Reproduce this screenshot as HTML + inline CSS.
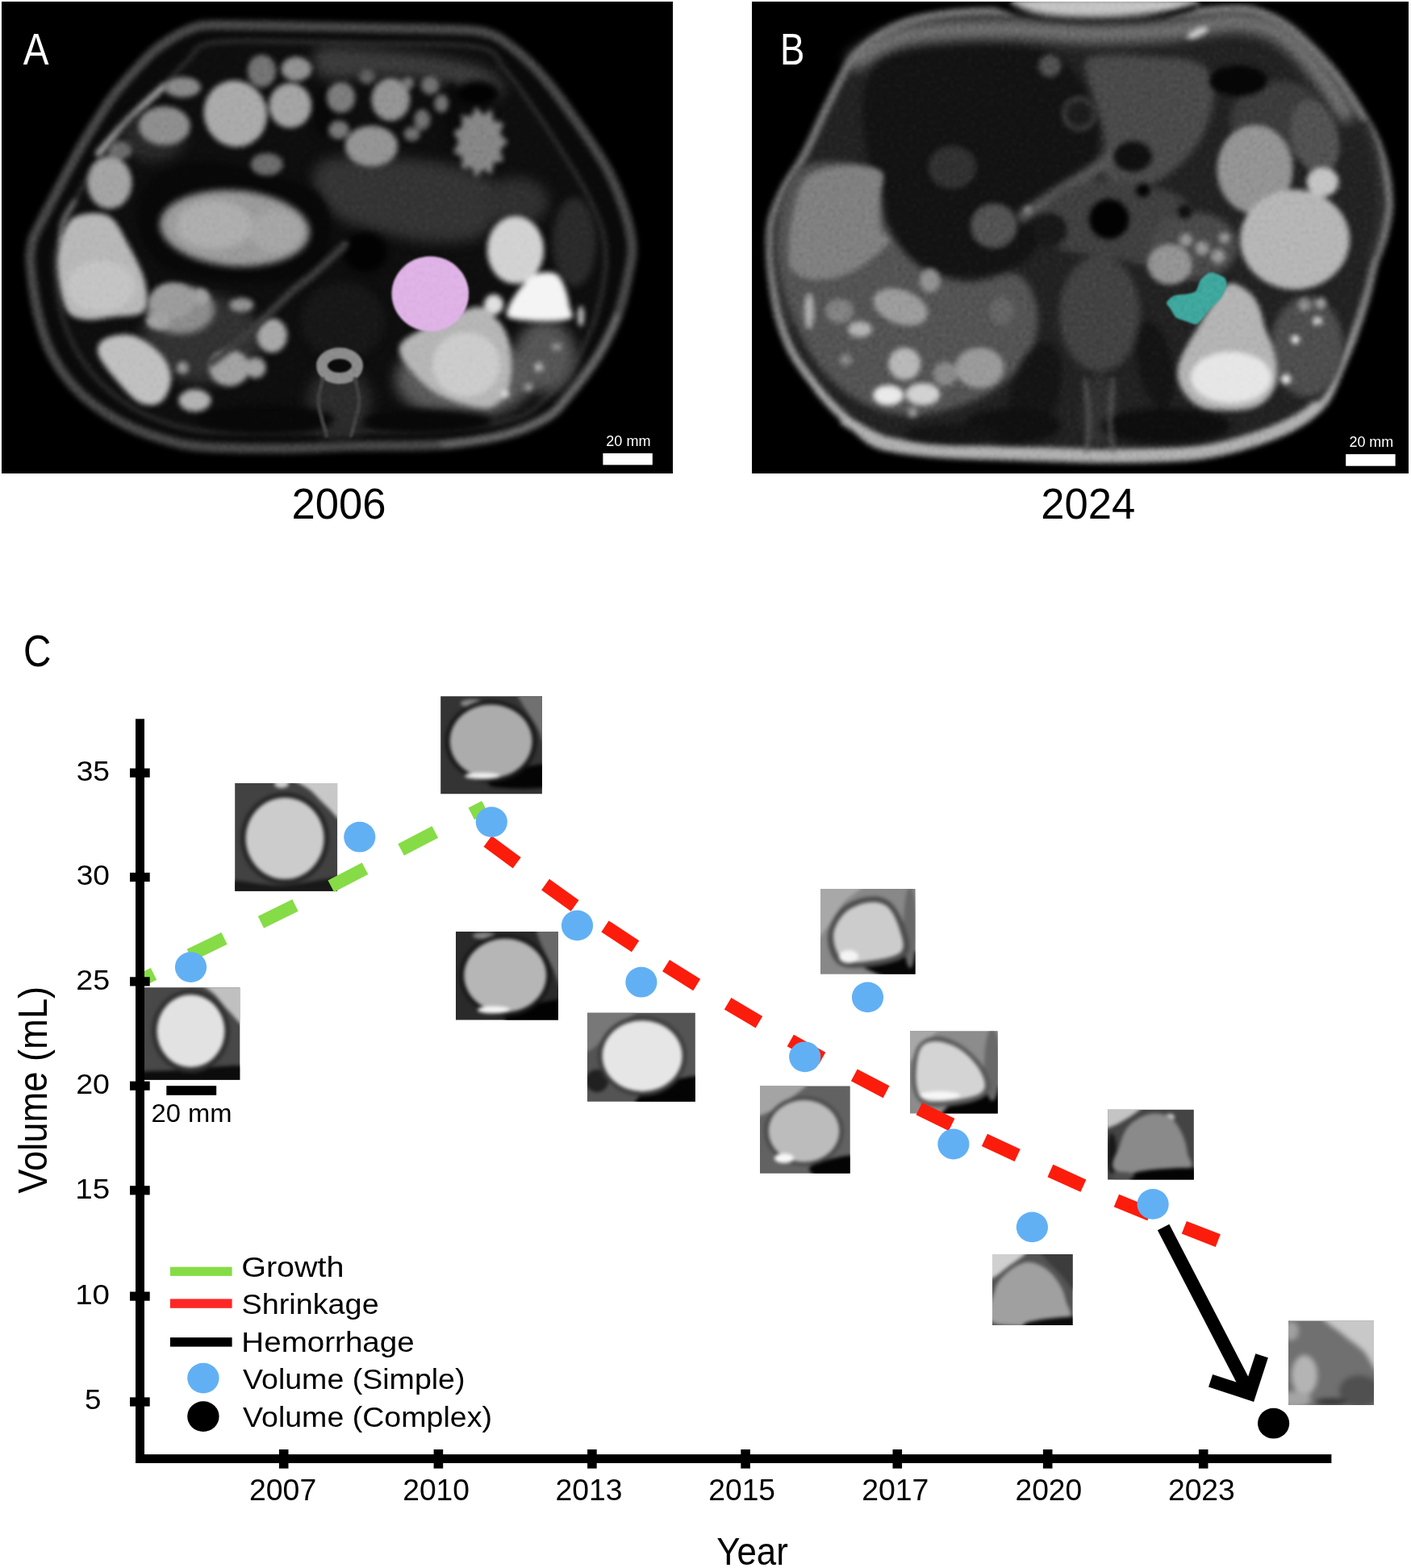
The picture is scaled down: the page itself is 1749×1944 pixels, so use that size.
<!DOCTYPE html>
<html lang="en"><head><meta charset="utf-8"><title>Figure</title>
<style>
html,body{margin:0;padding:0;background:#fff}
body{width:1749px;height:1944px;overflow:hidden;position:relative}
svg{position:absolute;left:0;top:0;display:block}
text{font-family:"Liberation Sans",sans-serif;white-space:pre}
</style></head>
<body>
<svg width="1749" height="1944" viewBox="0 0 1749 1944">
<defs>
<filter id="b1" x="-20%" y="-20%" width="140%" height="140%" color-interpolation-filters="sRGB"><feGaussianBlur stdDeviation="1.3"/></filter>
<filter id="b2" x="-20%" y="-20%" width="140%" height="140%" color-interpolation-filters="sRGB"><feGaussianBlur stdDeviation="3.2"/></filter>
<filter id="b3" x="-20%" y="-20%" width="140%" height="140%" color-interpolation-filters="sRGB"><feGaussianBlur stdDeviation="4.5"/></filter>
<filter id="b4" x="-30%" y="-30%" width="160%" height="160%" color-interpolation-filters="sRGB"><feGaussianBlur stdDeviation="8"/></filter>
<filter id="b5" x="-30%" y="-30%" width="160%" height="160%" color-interpolation-filters="sRGB"><feGaussianBlur stdDeviation="14"/></filter>
<linearGradient id="gB" gradientUnits="userSpaceOnUse" x1="0" y1="330" x2="0" y2="520"><stop offset="0" stop-color="#727272"/><stop offset="1" stop-color="#acacac"/></linearGradient>
<clipPath id="cA"><rect x="2.5" y="2.5" width="830.8" height="584.2"/></clipPath>
<clipPath id="cB"><rect x="932" y="2.5" width="813.3" height="584.2"/></clipPath>
<filter id="bt" x="-20%" y="-20%" width="140%" height="140%" color-interpolation-filters="sRGB"><feGaussianBlur stdDeviation="2"/></filter>
<filter id="grain" x="0" y="0" width="100%" height="100%" color-interpolation-filters="sRGB"><feTurbulence type="fractalNoise" baseFrequency="0.22" numOctaves="2" seed="7"/><feColorMatrix type="matrix" values="0.33 0.33 0.33 0 0  0.33 0.33 0.33 0 0  0.33 0.33 0.33 0 0  0 0 0 0 1"/><feGaussianBlur stdDeviation="0.8"/></filter>
<clipPath id="t1"><rect x="178.8" y="1224.2" width="118.5" height="114.5"/></clipPath>
<clipPath id="t2"><rect x="291.2" y="971" width="126.9" height="133.7"/></clipPath>
<clipPath id="t3"><rect x="546.2" y="863.2" width="125.7" height="121.0"/></clipPath>
<clipPath id="t4"><rect x="565" y="1155.1" width="127.0" height="109.5"/></clipPath>
<clipPath id="t5"><rect x="728" y="1255.7" width="133.8" height="110.1"/></clipPath>
<clipPath id="t6"><rect x="1017" y="1102" width="117.6" height="105.8"/></clipPath>
<clipPath id="t7"><rect x="942" y="1346.6" width="111.7" height="108.1"/></clipPath>
<clipPath id="t8"><rect x="1128" y="1278.3" width="108.8" height="102.3"/></clipPath>
<clipPath id="t9"><rect x="1230" y="1554.9" width="99.6" height="88.0"/></clipPath>
<clipPath id="t10"><rect x="1373.1" y="1375.8" width="106.7" height="86.8"/></clipPath>
<clipPath id="t11"><rect x="1597" y="1637.4" width="106.0" height="104.5"/></clipPath>
</defs>
<rect x="0" y="0" width="1749" height="1944" fill="#fff"/>
<g clip-path="url(#cA)">
<rect x="0" y="0" width="840" height="590" fill="#000"/>
<g filter="url(#b2)">
<path d="M264.0,31.0 C282.5,30.5 320.7,31.5 350.0,32.0 C379.3,32.5 408.3,33.3 440.0,34.0 C471.7,34.7 513.2,35.0 540.0,36.0 C566.8,37.0 584.5,35.7 601.0,40.0 C617.5,44.3 626.3,52.0 639.0,62.0 C651.7,72.0 664.5,85.3 677.0,100.0 C689.5,114.7 701.8,132.5 714.0,150.0 C726.2,167.5 740.5,188.0 750.0,205.0 C759.5,222.0 765.5,236.2 771.0,252.0 C776.5,267.8 781.5,286.2 783.0,300.0 C784.5,313.8 783.0,319.5 780.0,335.0 C777.0,350.5 771.7,375.0 765.0,393.0 C758.3,411.0 750.5,426.2 740.0,443.0 C729.5,459.8 712.5,481.5 702.0,494.0 C691.5,506.5 689.7,510.5 677.0,518.0 C664.3,525.5 647.0,533.5 626.0,539.0 C605.0,544.5 582.0,548.7 551.0,551.0 C520.0,553.3 473.2,552.2 440.0,553.0 C406.8,553.8 383.3,555.8 352.0,556.0 C320.7,556.2 277.2,556.0 252.0,554.0 C226.8,552.0 217.8,549.0 201.0,544.0 C184.2,539.0 167.7,533.2 151.0,524.0 C134.3,514.8 115.2,502.5 101.0,489.0 C86.8,475.5 74.8,459.0 66.0,443.0 C57.2,427.0 52.7,411.8 48.0,393.0 C43.3,374.2 39.5,344.7 38.0,330.0 C36.5,315.3 38.0,311.8 39.0,305.0 C40.0,298.2 40.0,297.8 44.0,289.0 C48.0,280.2 56.5,264.5 63.0,252.0 C69.5,239.5 76.7,225.8 83.0,214.0 C89.3,202.2 94.7,192.0 101.0,181.0 C107.3,170.0 114.3,158.5 121.0,148.0 C127.7,137.5 133.8,127.5 141.0,118.0 C148.2,108.5 156.0,99.8 164.0,91.0 C172.0,82.2 180.7,72.3 189.0,65.0 C197.3,57.7 205.7,52.0 214.0,47.0 C222.3,42.0 230.7,37.7 239.0,35.0 C247.3,32.3 245.5,31.5 264.0,31.0Z" fill="#0a0a0a"/>
<path d="M270.0,52.0 C305.0,48.0 386.7,53.0 440.0,54.0 C493.3,55.0 559.2,52.8 590.0,58.0 C620.8,63.2 614.7,74.5 625.0,85.0 C635.3,95.5 641.3,105.8 652.0,121.0 C662.7,136.2 676.5,156.3 689.0,176.0 C701.5,195.7 717.2,220.0 727.0,239.0 C736.8,258.0 744.2,273.2 748.0,290.0 C751.8,306.8 752.0,321.7 750.0,340.0 C748.0,358.3 742.3,381.7 736.0,400.0 C729.7,418.3 721.3,435.0 712.0,450.0 C702.7,465.0 692.2,478.5 680.0,490.0 C667.8,501.5 660.5,511.8 639.0,519.0 C617.5,526.2 584.2,530.3 551.0,533.0 C517.8,535.7 476.8,534.5 440.0,535.0 C403.2,535.5 361.7,536.2 330.0,536.0 C298.3,535.8 271.7,536.3 250.0,534.0 C228.3,531.7 215.0,527.2 200.0,522.0 C185.0,516.8 173.3,511.7 160.0,503.0 C146.7,494.3 131.3,482.2 120.0,470.0 C108.7,457.8 99.5,444.2 92.0,430.0 C84.5,415.8 79.0,401.7 75.0,385.0 C71.0,368.3 68.5,344.2 68.0,330.0 C67.5,315.8 68.3,312.5 72.0,300.0 C75.7,287.5 84.0,268.0 90.0,255.0 C96.0,242.0 101.3,233.2 108.0,222.0 C114.7,210.8 122.8,198.2 130.0,188.0 C137.2,177.8 143.5,169.8 151.0,161.0 C158.5,152.2 166.8,143.5 175.0,135.0 C183.2,126.5 190.8,119.5 200.0,110.0 C209.2,100.5 218.3,87.7 230.0,78.0 C241.7,68.3 235.0,56.0 270.0,52.0Z" fill="#0e0e0e"/>
<path d="M264.0,31.0 C282.5,30.5 320.7,31.5 350.0,32.0 C379.3,32.5 408.3,33.3 440.0,34.0 C471.7,34.7 513.2,35.0 540.0,36.0 C566.8,37.0 584.5,35.7 601.0,40.0 C617.5,44.3 626.3,52.0 639.0,62.0 C651.7,72.0 664.5,85.3 677.0,100.0 C689.5,114.7 701.8,132.5 714.0,150.0 C726.2,167.5 740.5,188.0 750.0,205.0 C759.5,222.0 765.5,236.2 771.0,252.0 C776.5,267.8 781.5,286.2 783.0,300.0 C784.5,313.8 783.0,319.5 780.0,335.0 C777.0,350.5 771.7,375.0 765.0,393.0 C758.3,411.0 750.5,426.2 740.0,443.0 C729.5,459.8 712.5,481.5 702.0,494.0 C691.5,506.5 689.7,510.5 677.0,518.0 C664.3,525.5 647.0,533.5 626.0,539.0 C605.0,544.5 582.0,548.7 551.0,551.0 C520.0,553.3 473.2,552.2 440.0,553.0 C406.8,553.8 383.3,555.8 352.0,556.0 C320.7,556.2 277.2,556.0 252.0,554.0 C226.8,552.0 217.8,549.0 201.0,544.0 C184.2,539.0 167.7,533.2 151.0,524.0 C134.3,514.8 115.2,502.5 101.0,489.0 C86.8,475.5 74.8,459.0 66.0,443.0 C57.2,427.0 52.7,411.8 48.0,393.0 C43.3,374.2 39.5,344.7 38.0,330.0 C36.5,315.3 38.0,311.8 39.0,305.0 C40.0,298.2 40.0,297.8 44.0,289.0 C48.0,280.2 56.5,264.5 63.0,252.0 C69.5,239.5 76.7,225.8 83.0,214.0 C89.3,202.2 94.7,192.0 101.0,181.0 C107.3,170.0 114.3,158.5 121.0,148.0 C127.7,137.5 133.8,127.5 141.0,118.0 C148.2,108.5 156.0,99.8 164.0,91.0 C172.0,82.2 180.7,72.3 189.0,65.0 C197.3,57.7 205.7,52.0 214.0,47.0 C222.3,42.0 230.7,37.7 239.0,35.0 C247.3,32.3 245.5,31.5 264.0,31.0Z" fill="none" stroke="#484848" stroke-width="12" stroke-linecap="round" stroke-linejoin="round"/>
<path d="M270.0,52.0 C305.0,48.0 386.7,53.0 440.0,54.0 C493.3,55.0 559.2,52.8 590.0,58.0 C620.8,63.2 614.7,74.5 625.0,85.0 C635.3,95.5 641.3,105.8 652.0,121.0 C662.7,136.2 676.5,156.3 689.0,176.0 C701.5,195.7 717.2,220.0 727.0,239.0 C736.8,258.0 744.2,273.2 748.0,290.0 C751.8,306.8 752.0,321.7 750.0,340.0 C748.0,358.3 742.3,381.7 736.0,400.0 C729.7,418.3 721.3,435.0 712.0,450.0 C702.7,465.0 692.2,478.5 680.0,490.0 C667.8,501.5 660.5,511.8 639.0,519.0 C617.5,526.2 584.2,530.3 551.0,533.0 C517.8,535.7 476.8,534.5 440.0,535.0 C403.2,535.5 361.7,536.2 330.0,536.0 C298.3,535.8 271.7,536.3 250.0,534.0 C228.3,531.7 215.0,527.2 200.0,522.0 C185.0,516.8 173.3,511.7 160.0,503.0 C146.7,494.3 131.3,482.2 120.0,470.0 C108.7,457.8 99.5,444.2 92.0,430.0 C84.5,415.8 79.0,401.7 75.0,385.0 C71.0,368.3 68.5,344.2 68.0,330.0 C67.5,315.8 68.3,312.5 72.0,300.0 C75.7,287.5 84.0,268.0 90.0,255.0 C96.0,242.0 101.3,233.2 108.0,222.0 C114.7,210.8 122.8,198.2 130.0,188.0 C137.2,177.8 143.5,169.8 151.0,161.0 C158.5,152.2 166.8,143.5 175.0,135.0 C183.2,126.5 190.8,119.5 200.0,110.0 C209.2,100.5 218.3,87.7 230.0,78.0 C241.7,68.3 235.0,56.0 270.0,52.0Z" fill="none" stroke="#303030" stroke-width="5" stroke-linecap="round" stroke-linejoin="round"/>
<path d="M765.0,393.0 C760.8,401.3 750.5,426.2 740.0,443.0 C729.5,459.8 712.5,481.5 702.0,494.0 C691.5,506.5 689.7,510.5 677.0,518.0 C664.3,525.5 647.0,533.5 626.0,539.0 C605.0,544.5 563.5,549.0 551.0,551.0" fill="none" stroke="#666666" stroke-width="9" stroke-linecap="round" stroke-linejoin="round"/>
<path d="M122.0,190.0 C126.7,184.7 140.7,168.0 150.0,158.0 C159.3,148.0 169.2,138.5 178.0,130.0 C186.8,121.5 198.8,110.8 203.0,107.0" fill="none" stroke="#a0a0a0" stroke-width="8" stroke-linecap="round" stroke-linejoin="round"/>
<path d="M75.0,300.0 C75.5,295.8 75.2,283.3 78.0,275.0 C80.8,266.7 89.7,254.2 92.0,250.0" fill="none" stroke="#707070" stroke-width="6" stroke-linecap="round" stroke-linejoin="round"/>
</g>
<g filter="url(#b4)">
<path d="M395.0,60.0 C406.7,54.5 445.8,60.3 470.0,62.0 C494.2,63.7 518.3,66.2 540.0,70.0 C561.7,73.8 585.8,78.3 600.0,85.0 C614.2,91.7 625.0,103.3 625.0,110.0 C625.0,116.7 614.2,126.7 600.0,125.0 C585.8,123.3 561.7,105.0 540.0,100.0 C518.3,95.0 493.3,95.8 470.0,95.0 C446.7,94.2 412.5,100.8 400.0,95.0 C387.5,89.2 383.3,65.5 395.0,60.0Z" fill="#3c3c3c"/>
<path d="M400.0,200.0 C413.3,193.3 443.3,194.2 470.0,195.0 C496.7,195.8 535.0,198.3 560.0,205.0 C585.0,211.7 613.3,220.8 620.0,235.0 C626.7,249.2 613.3,279.2 600.0,290.0 C586.7,300.8 560.0,300.0 540.0,300.0 C520.0,300.0 500.0,295.0 480.0,290.0 C460.0,285.0 435.0,279.2 420.0,270.0 C405.0,260.8 393.3,246.7 390.0,235.0 C386.7,223.3 386.7,206.7 400.0,200.0Z" fill="#343434"/>
<ellipse cx="676.0" cy="442.0" rx="38.0" ry="45.0" fill="#565656"/>
<ellipse cx="250.0" cy="420.0" rx="75.0" ry="55.0" fill="#323232"/>
<ellipse cx="190.0" cy="170.0" rx="40.0" ry="30.0" fill="#2a2a2a"/>
<ellipse cx="420.0" cy="500.0" rx="40.0" ry="45.0" fill="#2c2c2c"/>
<ellipse cx="640.0" cy="250.0" rx="40.0" ry="30.0" fill="#303030"/>
<ellipse cx="575.0" cy="470.0" rx="85.0" ry="50.0" fill="#5a5a5a"/>
</g>
<g filter="url(#b3)">
<path d="M185.0,225.0 C198.3,212.5 225.8,201.7 250.0,200.0 C274.2,198.3 305.8,208.3 330.0,215.0 C354.2,221.7 381.7,227.5 395.0,240.0 C408.3,252.5 410.8,274.2 410.0,290.0 C409.2,305.8 403.3,325.0 390.0,335.0 C376.7,345.0 353.3,348.3 330.0,350.0 C306.7,351.7 272.5,349.2 250.0,345.0 C227.5,340.8 208.3,336.7 195.0,325.0 C181.7,313.3 171.7,291.7 170.0,275.0 C168.3,258.3 171.7,237.5 185.0,225.0Z" fill="#080808"/>
<ellipse cx="452.8" cy="312.7" rx="27.0" ry="25.0" fill="#020202"/>
<ellipse cx="425.0" cy="398.0" rx="52.0" ry="48.0" fill="#171717"/>
<ellipse cx="592.0" cy="116.0" rx="27.0" ry="16.0" fill="#020202"/>
<ellipse cx="712.0" cy="300.0" rx="27.0" ry="55.0" fill="#2a2a2a"/>
<ellipse cx="330.0" cy="520.0" rx="85.0" ry="18.0" fill="#080808"/>
<ellipse cx="530.0" cy="522.0" rx="80.0" ry="15.0" fill="#080808"/>
<ellipse cx="400.0" cy="140.0" rx="12.0" ry="30.0" fill="#080808"/>
<ellipse cx="560.0" cy="140.0" rx="10.0" ry="40.0" fill="#0a0a0a"/>
</g>
<g filter="url(#b3)">
<ellipse cx="291.0" cy="283.0" rx="93.0" ry="47.0" fill="#9a9a9a" transform="rotate(4 291.0 283.0)"/>
<ellipse cx="266.0" cy="279.0" rx="48.0" ry="30.0" fill="#aeaeae"/>
<ellipse cx="342.0" cy="287.0" rx="32.0" ry="27.0" fill="#a6a6a6"/>
<ellipse cx="224.0" cy="384.0" rx="42.0" ry="30.0" fill="#8c8c8c"/>
</g>
<g filter="url(#b2)">
<ellipse cx="135.8" cy="226.4" rx="27.7" ry="32.7" fill="#a4a4a4"/>
<ellipse cx="203.8" cy="156.0" rx="32.0" ry="24.0" fill="#8e8e8e"/>
<ellipse cx="291.8" cy="140.9" rx="39.0" ry="41.5" fill="#aaaaaa" transform="rotate(-20 291.8 140.9)"/>
<ellipse cx="359.7" cy="130.8" rx="26.4" ry="27.7" fill="#a4a4a4"/>
<ellipse cx="367.3" cy="85.5" rx="18.9" ry="15.0" fill="#929292"/>
<ellipse cx="324.5" cy="88.0" rx="17.6" ry="20.0" fill="#747474"/>
<ellipse cx="226.4" cy="108.2" rx="22.6" ry="12.6" fill="#8a8a8a"/>
<ellipse cx="330.8" cy="203.8" rx="20.0" ry="13.8" fill="#6c6c6c"/>
<ellipse cx="148.4" cy="186.2" rx="15.0" ry="11.3" fill="#6c6c6c"/>
<ellipse cx="422.6" cy="120.8" rx="17.6" ry="18.9" fill="#7c7c7c"/>
<ellipse cx="484.3" cy="123.3" rx="23.9" ry="26.4" fill="#949494"/>
<ellipse cx="460.4" cy="181.1" rx="32.7" ry="25.2" fill="#949494"/>
<ellipse cx="533.3" cy="105.7" rx="11.3" ry="11.3" fill="#727272"/>
<ellipse cx="547.2" cy="128.3" rx="8.8" ry="11.3" fill="#727272"/>
<ellipse cx="523.3" cy="148.4" rx="10.0" ry="12.6" fill="#727272"/>
<ellipse cx="510.7" cy="166.0" rx="10.0" ry="8.8" fill="#727272"/>
<ellipse cx="420.1" cy="161.0" rx="12.6" ry="11.3" fill="#787878"/>
<ellipse cx="505.7" cy="103.1" rx="7.5" ry="7.5" fill="#787878"/>
<ellipse cx="455.0" cy="95.0" rx="10.0" ry="9.0" fill="#606060"/>
<path d="M629.0,176.0 C629.0,177.9 620.9,183.3 620.4,185.7 C619.9,188.1 624.4,198.2 623.6,199.8 C622.8,201.4 613.9,200.3 612.4,201.9 C610.9,203.5 610.5,215.2 609.1,216.0 C607.7,216.8 600.7,209.6 598.8,210.0 C596.9,210.4 591.7,219.9 590.2,219.6 C588.7,219.3 585.8,208.2 584.0,207.2 C582.2,206.2 573.8,210.6 572.7,209.3 C571.6,208.0 573.7,196.7 572.7,194.6 C571.7,192.5 562.8,190.3 562.4,188.4 C562.0,186.5 568.5,178.5 568.5,176.0 C568.5,173.5 562.0,165.5 562.4,163.6 C562.8,161.7 571.7,159.5 572.7,157.4 C573.7,155.3 571.6,144.0 572.7,142.7 C573.8,141.4 582.2,145.8 584.0,144.8 C585.8,143.8 588.7,132.7 590.2,132.4 C591.7,132.1 596.9,141.6 598.8,142.0 C600.7,142.4 607.7,135.2 609.1,136.0 C610.5,136.8 610.9,148.5 612.4,150.1 C613.9,151.7 622.8,150.6 623.6,152.2 C624.4,153.8 619.9,163.9 620.4,166.3 C620.9,168.7 629.0,174.1 629.0,176.0Z" fill="#868686"/>
<path d="M95.0,268.0 C104.5,264.3 124.2,261.8 135.0,268.0 C145.8,274.2 152.5,291.3 160.0,305.0 C167.5,318.7 177.0,336.5 180.0,350.0 C183.0,363.5 184.7,378.8 178.0,386.0 C171.3,393.2 152.2,391.3 140.0,393.0 C127.8,394.7 114.7,397.7 105.0,396.0 C95.3,394.3 87.7,394.0 82.0,383.0 C76.3,372.0 71.7,345.5 71.0,330.0 C70.3,314.5 74.0,300.3 78.0,290.0 C82.0,279.7 85.5,271.7 95.0,268.0Z" fill="#b8b8b8"/>
<ellipse cx="125.0" cy="355.0" rx="42.0" ry="32.0" fill="#c4c4c4"/>
<path d="M130.0,420.0 C137.2,416.0 153.3,412.7 165.0,416.0 C176.7,419.3 192.2,431.0 200.0,440.0 C207.8,449.0 212.0,460.3 212.0,470.0 C212.0,479.7 206.2,493.0 200.0,498.0 C193.8,503.0 183.3,503.3 175.0,500.0 C166.7,496.7 158.8,488.0 150.0,478.0 C141.2,468.0 125.3,449.7 122.0,440.0 C118.7,430.3 122.8,424.0 130.0,420.0Z" fill="#c0c0c0"/>
<ellipse cx="213.8" cy="373.0" rx="27.7" ry="22.6" fill="#9c9c9c"/>
<ellipse cx="249.0" cy="368.0" rx="10.0" ry="10.0" fill="#a2a2a2"/>
<ellipse cx="299.4" cy="378.0" rx="15.0" ry="8.8" fill="#929292"/>
<ellipse cx="196.2" cy="398.2" rx="15.0" ry="10.0" fill="#a2a2a2"/>
<ellipse cx="337.1" cy="415.8" rx="18.9" ry="21.4" fill="#a8a8a8"/>
<ellipse cx="284.3" cy="456.1" rx="25.2" ry="22.6" fill="#a2a2a2"/>
<ellipse cx="317.0" cy="456.1" rx="12.6" ry="12.6" fill="#a2a2a2"/>
<ellipse cx="241.5" cy="496.4" rx="20.0" ry="13.8" fill="#b2b2b2"/>
<ellipse cx="226.4" cy="456.1" rx="7.5" ry="7.5" fill="#9a9a9a"/>
<ellipse cx="639.0" cy="310.0" rx="35.2" ry="42.0" fill="#d2d2d2"/>
<path d="M662.0,341.0 C669.7,337.3 681.7,336.5 688.0,339.0 C694.3,341.5 697.0,349.2 700.0,356.0 C703.0,362.8 704.8,373.5 706.0,380.0 C707.2,386.5 713.0,392.0 707.0,395.0 C701.0,398.0 682.5,398.2 670.0,398.0 C657.5,397.8 638.7,396.7 632.0,394.0 C625.3,391.3 628.3,387.5 630.0,382.0 C631.7,376.5 636.7,367.8 642.0,361.0 C647.3,354.2 654.3,344.7 662.0,341.0Z" fill="#f4f4f4"/>
<ellipse cx="612.0" cy="377.5" rx="12.0" ry="12.5" fill="#e0e0e0"/>
<path d="M588.0,381.0 C603.8,378.5 608.0,388.5 615.0,395.0 C622.0,401.5 626.8,409.2 630.0,420.0 C633.2,430.8 634.7,448.3 634.0,460.0 C633.3,471.7 631.5,482.3 626.0,490.0 C620.5,497.7 614.5,506.0 601.0,506.0 C587.5,506.0 560.2,497.7 545.0,490.0 C529.8,482.3 518.3,469.8 510.0,460.0 C501.7,450.2 493.3,439.3 495.0,431.0 C496.7,422.7 504.5,418.3 520.0,410.0 C535.5,401.7 572.2,383.5 588.0,381.0Z" fill="#b6b6b6"/>
<ellipse cx="578.0" cy="452.0" rx="42.0" ry="40.0" fill="#cccccc"/>
<ellipse cx="720.0" cy="392.0" rx="4.0" ry="13.0" fill="#c8c8c8"/>
<ellipse cx="668.0" cy="455.0" rx="6.0" ry="6.0" fill="#b0b0b0"/>
<ellipse cx="690.0" cy="430.0" rx="7.0" ry="5.0" fill="#909090"/>
<ellipse cx="655.0" cy="480.0" rx="6.0" ry="5.0" fill="#a0a0a0"/>
<ellipse cx="626.4" cy="488.8" rx="5.0" ry="5.0" fill="#e4e4e4"/>
</g>
<g filter="url(#b1)">
<ellipse cx="421" cy="453.5" rx="22" ry="15.5" fill="#0a0a0a" stroke="#8c8c8c" stroke-width="14"/>
<path d="M400.0,470.0 C399.2,475.0 394.2,488.3 395.0,500.0 C395.8,511.7 403.3,533.3 405.0,540.0" fill="none" stroke="#404040" stroke-width="5" stroke-linecap="round" stroke-linejoin="round"/>
<path d="M440.0,470.0 C440.8,475.0 445.8,488.3 445.0,500.0 C444.2,511.7 436.7,533.3 435.0,540.0" fill="none" stroke="#404040" stroke-width="5" stroke-linecap="round" stroke-linejoin="round"/>
</g>
<g filter="url(#b2)">
<path d="M428.0,303.0 C424.2,306.7 412.0,318.5 405.0,325.0 C398.0,331.5 393.5,335.7 386.0,342.0 C378.5,348.3 369.3,354.7 360.0,363.0 C350.7,371.3 340.0,382.5 330.0,392.0 C320.0,401.5 311.3,410.3 300.0,420.0 C288.7,429.7 268.3,445.0 262.0,450.0" fill="none" stroke="#3e3e3e" stroke-width="9" stroke-linecap="round" stroke-linejoin="round"/>
</g>
<g filter="url(#b1)">
<ellipse cx="533.3" cy="364.3" rx="47.8" ry="46.5" fill="#DFB3E6"/>
</g>
<rect x="2" y="2" width="832" height="585" filter="url(#grain)" opacity="0.35" style="mix-blend-mode:soft-light"/>
</g>
<rect x="747.4" y="562" width="61.4" height="14.4" fill="#fff"/>
<text x="751.29" y="552.80" font-size="17.62" textLength="55.20" lengthAdjust="spacingAndGlyphs" fill="#fff" >20 mm</text>
<text x="28.71" y="79.90" font-size="54.80" textLength="31.79" lengthAdjust="spacingAndGlyphs" fill="#fff" >A</text>
<g clip-path="url(#cB)">
<rect x="925" y="0" width="830" height="590" fill="#000"/>
<g filter="url(#b2)">
<path d="M1225.0,14.0 C1191.3,13.8 1168.8,17.0 1148.0,21.0 C1127.2,25.0 1114.7,30.0 1100.0,38.0 C1085.3,46.0 1069.7,59.0 1060.0,69.0 C1050.3,79.0 1048.7,85.7 1042.0,98.0 C1035.3,110.3 1027.5,127.3 1020.0,143.0 C1012.5,158.7 1005.0,177.0 997.0,192.0 C989.0,207.0 978.8,219.3 972.0,233.0 C965.2,246.7 959.0,260.3 956.0,274.0 C953.0,287.7 953.7,301.3 954.0,315.0 C954.3,328.7 956.0,342.5 958.0,356.0 C960.0,369.5 962.0,382.5 966.0,396.0 C970.0,409.5 975.8,425.0 982.0,437.0 C988.2,449.0 995.5,457.8 1003.0,468.0 C1010.5,478.2 1017.8,488.0 1027.0,498.0 C1036.2,508.0 1049.2,519.8 1058.0,528.0 C1066.8,536.2 1071.5,542.3 1080.0,547.0 C1088.5,551.7 1093.7,553.3 1109.0,556.0 C1124.3,558.7 1146.8,561.3 1172.0,563.0 C1197.2,564.7 1226.2,565.0 1260.0,566.0 C1293.8,567.0 1337.5,569.2 1375.0,569.0 C1412.5,568.8 1454.2,568.7 1485.0,565.0 C1515.8,561.3 1539.2,553.7 1560.0,547.0 C1580.8,540.3 1596.3,533.2 1610.0,525.0 C1623.7,516.8 1633.7,508.8 1642.0,498.0 C1650.3,487.2 1654.2,473.2 1660.0,460.0 C1665.8,446.8 1671.3,434.5 1677.0,419.0 C1682.7,403.5 1689.5,382.5 1694.0,367.0 C1698.5,351.5 1700.5,338.0 1704.0,326.0 C1707.5,314.0 1712.0,306.3 1715.0,295.0 C1718.0,283.7 1721.2,269.7 1722.0,258.0 C1722.8,246.3 1721.2,234.5 1720.0,225.0 C1718.8,215.5 1717.5,209.8 1715.0,201.0 C1712.5,192.2 1709.8,182.5 1705.0,172.0 C1700.2,161.5 1694.2,151.2 1686.0,138.0 C1677.8,124.8 1666.0,106.0 1656.0,93.0 C1646.0,80.0 1635.8,69.8 1626.0,60.0 C1616.2,50.2 1606.7,41.0 1597.0,34.0 C1587.3,27.0 1577.7,21.8 1568.0,18.0 C1558.3,14.2 1552.2,11.7 1539.0,11.0 C1525.8,10.3 1508.8,12.2 1489.0,14.0 C1469.2,15.8 1443.2,20.7 1420.0,22.0 C1396.8,23.3 1382.5,23.3 1350.0,22.0 C1317.5,20.7 1258.7,14.2 1225.0,14.0Z" fill="#222222"/>
<path d="M1225.0,14.0 C1191.3,13.8 1168.8,17.0 1148.0,21.0 C1127.2,25.0 1114.7,30.0 1100.0,38.0 C1085.3,46.0 1069.7,59.0 1060.0,69.0 C1050.3,79.0 1048.7,85.7 1042.0,98.0 C1035.3,110.3 1027.5,127.3 1020.0,143.0 C1012.5,158.7 1005.0,177.0 997.0,192.0 C989.0,207.0 978.8,219.3 972.0,233.0 C965.2,246.7 959.0,260.3 956.0,274.0 C953.0,287.7 953.7,301.3 954.0,315.0 C954.3,328.7 956.0,342.5 958.0,356.0 C960.0,369.5 962.0,382.5 966.0,396.0 C970.0,409.5 975.8,425.0 982.0,437.0 C988.2,449.0 995.5,457.8 1003.0,468.0 C1010.5,478.2 1017.8,488.0 1027.0,498.0 C1036.2,508.0 1049.2,519.8 1058.0,528.0 C1066.8,536.2 1071.5,542.3 1080.0,547.0 C1088.5,551.7 1093.7,553.3 1109.0,556.0 C1124.3,558.7 1146.8,561.3 1172.0,563.0 C1197.2,564.7 1226.2,565.0 1260.0,566.0 C1293.8,567.0 1337.5,569.2 1375.0,569.0 C1412.5,568.8 1454.2,568.7 1485.0,565.0 C1515.8,561.3 1539.2,553.7 1560.0,547.0 C1580.8,540.3 1596.3,533.2 1610.0,525.0 C1623.7,516.8 1633.7,508.8 1642.0,498.0 C1650.3,487.2 1654.2,473.2 1660.0,460.0 C1665.8,446.8 1671.3,434.5 1677.0,419.0 C1682.7,403.5 1689.5,382.5 1694.0,367.0 C1698.5,351.5 1700.5,338.0 1704.0,326.0 C1707.5,314.0 1712.0,306.3 1715.0,295.0 C1718.0,283.7 1721.2,269.7 1722.0,258.0 C1722.8,246.3 1721.2,234.5 1720.0,225.0 C1718.8,215.5 1717.5,209.8 1715.0,201.0 C1712.5,192.2 1709.8,182.5 1705.0,172.0 C1700.2,161.5 1694.2,151.2 1686.0,138.0 C1677.8,124.8 1666.0,106.0 1656.0,93.0 C1646.0,80.0 1635.8,69.8 1626.0,60.0 C1616.2,50.2 1606.7,41.0 1597.0,34.0 C1587.3,27.0 1577.7,21.8 1568.0,18.0 C1558.3,14.2 1552.2,11.7 1539.0,11.0 C1525.8,10.3 1508.8,12.2 1489.0,14.0 C1469.2,15.8 1443.2,20.7 1420.0,22.0 C1396.8,23.3 1382.5,23.3 1350.0,22.0 C1317.5,20.7 1258.7,14.2 1225.0,14.0Z" fill="none" stroke="url(#gB)" stroke-width="10" stroke-linejoin="round"/>
<path d="M1012.0,484.0 C1015.0,487.5 1023.7,498.3 1030.0,505.0 C1036.3,511.7 1046.7,520.8 1050.0,524.0" fill="none" stroke="#a4a4a4" stroke-width="6" stroke-linecap="butt" stroke-linejoin="round"/>
<path d="M1655.0,470.0 C1653.3,473.3 1649.5,483.7 1645.0,490.0 C1640.5,496.3 1630.8,505.0 1628.0,508.0" fill="none" stroke="#a4a4a4" stroke-width="6" stroke-linecap="butt" stroke-linejoin="round"/>
<path d="M1044.0,519.0 C1050.0,522.5 1069.2,534.8 1080.0,540.0 C1090.8,545.2 1093.7,547.2 1109.0,550.0 C1124.3,552.8 1146.8,555.3 1172.0,557.0 C1197.2,558.7 1226.2,559.0 1260.0,560.0 C1293.8,561.0 1337.5,563.2 1375.0,563.0 C1412.5,562.8 1454.2,562.7 1485.0,559.0 C1515.8,555.3 1539.2,547.7 1560.0,541.0 C1580.8,534.3 1597.7,525.7 1610.0,519.0 C1622.3,512.3 1630.0,504.0 1634.0,501.0" fill="none" stroke="#b0b0b0" stroke-width="13" stroke-linecap="butt" stroke-linejoin="round"/>
<path d="M975.0,250.0 C973.5,258.3 967.2,283.3 966.0,300.0 C964.8,316.7 965.7,333.3 968.0,350.0 C970.3,366.7 978.0,391.7 980.0,400.0" fill="none" stroke="#303030" stroke-width="8" stroke-linecap="round" stroke-linejoin="round"/>
<path d="M1690.0,150.0 C1692.3,156.7 1700.7,175.8 1704.0,190.0 C1707.3,204.2 1709.5,219.2 1710.0,235.0 C1710.5,250.8 1709.0,271.2 1707.0,285.0 C1705.0,298.8 1699.5,312.5 1698.0,318.0" fill="none" stroke="#2c2c2c" stroke-width="10" stroke-linecap="butt" stroke-linejoin="round"/>
<path d="M1440.0,62.0 C1453.3,60.3 1496.7,51.3 1520.0,52.0 C1543.3,52.7 1563.3,58.0 1580.0,66.0 C1596.7,74.0 1608.3,87.7 1620.0,100.0 C1631.7,112.3 1645.0,133.3 1650.0,140.0" fill="none" stroke="#202020" stroke-width="6" stroke-linecap="round" stroke-linejoin="round"/>
<path d="M1262.0,0.0 C1292.3,-2.5 1440.7,-1.7 1474.0,0.0 C1507.3,1.7 1471.0,7.3 1462.0,10.0 C1453.0,12.7 1438.7,14.5 1420.0,16.0 C1401.3,17.5 1371.3,19.2 1350.0,19.0 C1328.7,18.8 1306.7,18.2 1292.0,15.0 C1277.3,11.8 1231.7,2.5 1262.0,0.0Z" fill="#c4c4c4"/>
<path d="M1240.0,8.0 C1248.3,10.7 1271.7,20.7 1290.0,24.0 C1308.3,27.3 1328.3,27.8 1350.0,28.0 C1371.7,28.2 1398.7,28.0 1420.0,25.0 C1441.3,22.0 1468.3,12.5 1478.0,10.0" fill="none" stroke="#060606" stroke-width="8" stroke-linecap="round" stroke-linejoin="round"/>
</g>
<g filter="url(#b4)">
<path d="M1062.0,75.0 C1068.3,71.2 1085.3,57.8 1100.0,52.0 C1114.7,46.2 1125.0,42.7 1150.0,40.0 C1175.0,37.3 1216.7,35.7 1250.0,36.0 C1283.3,36.3 1316.7,41.7 1350.0,42.0 C1383.3,42.3 1420.0,40.5 1450.0,38.0 C1480.0,35.5 1508.3,27.0 1530.0,27.0 C1551.7,27.0 1565.8,31.5 1580.0,38.0 C1594.2,44.5 1604.2,55.0 1615.0,66.0 C1625.8,77.0 1636.2,91.7 1645.0,104.0 C1653.8,116.3 1664.2,134.0 1668.0,140.0" fill="none" stroke="#787878" stroke-width="22" stroke-linecap="round" stroke-linejoin="round"/>
</g>
<g filter="url(#b3)">
<path d="M1072.0,110.0 C1076.7,93.7 1082.0,80.7 1100.0,72.0 C1118.0,63.3 1153.3,60.3 1180.0,58.0 C1206.7,55.7 1238.3,56.0 1260.0,58.0 C1281.7,60.0 1295.8,61.3 1310.0,70.0 C1324.2,78.7 1336.3,94.2 1345.0,110.0 C1353.7,125.8 1362.0,145.8 1362.0,165.0 C1362.0,184.2 1354.5,208.8 1345.0,225.0 C1335.5,241.2 1316.7,246.2 1305.0,262.0 C1293.3,277.8 1290.0,306.7 1275.0,320.0 C1260.0,333.3 1235.8,339.7 1215.0,342.0 C1194.2,344.3 1169.2,341.5 1150.0,334.0 C1130.8,326.5 1110.5,312.7 1100.0,297.0 C1089.5,281.3 1091.7,261.2 1087.0,240.0 C1082.3,218.8 1074.5,191.7 1072.0,170.0 C1069.5,148.3 1067.3,126.3 1072.0,110.0Z" fill="#131313"/>
<path d="M1350.0,72.0 C1361.3,65.3 1397.5,69.0 1420.0,70.0 C1442.5,71.0 1470.8,71.0 1485.0,78.0 C1499.2,85.0 1504.2,96.7 1505.0,112.0 C1505.8,127.3 1499.2,152.8 1490.0,170.0 C1480.8,187.2 1464.2,204.2 1450.0,215.0 C1435.8,225.8 1418.0,233.3 1405.0,235.0 C1392.0,236.7 1378.2,236.7 1372.0,225.0 C1365.8,213.3 1371.3,184.2 1368.0,165.0 C1364.7,145.8 1355.0,125.5 1352.0,110.0 C1349.0,94.5 1338.7,78.7 1350.0,72.0Z" fill="#4a4a4a"/>
<path d="M1268.0,268.0 C1275.0,263.3 1296.3,248.8 1310.0,240.0 C1323.7,231.2 1336.3,224.2 1350.0,215.0 C1363.7,205.8 1385.0,190.0 1392.0,185.0" fill="none" stroke="#565656" stroke-width="16" stroke-linecap="round" stroke-linejoin="round"/>
<path d="M1300.0,250.0 C1310.0,239.2 1330.0,228.3 1350.0,225.0 C1370.0,221.7 1400.0,225.8 1420.0,230.0 C1440.0,234.2 1460.0,238.3 1470.0,250.0 C1480.0,261.7 1485.0,286.7 1480.0,300.0 C1475.0,313.3 1456.7,326.7 1440.0,330.0 C1423.3,333.3 1400.0,323.3 1380.0,320.0 C1360.0,316.7 1335.0,315.0 1320.0,310.0 C1305.0,305.0 1293.3,300.0 1290.0,290.0 C1286.7,280.0 1290.0,260.8 1300.0,250.0Z" fill="#404040"/>
<path d="M985.0,215.0 C995.8,203.3 1013.3,200.0 1030.0,200.0 C1046.7,200.0 1073.3,201.7 1085.0,215.0 C1096.7,228.3 1090.8,260.8 1100.0,280.0 C1109.2,299.2 1123.3,318.3 1140.0,330.0 C1156.7,341.7 1180.0,348.3 1200.0,350.0 C1220.0,351.7 1245.8,335.0 1260.0,340.0 C1274.2,345.0 1281.7,365.0 1285.0,380.0 C1288.3,395.0 1285.8,415.0 1280.0,430.0 C1274.2,445.0 1263.3,458.3 1250.0,470.0 C1236.7,481.7 1220.0,492.5 1200.0,500.0 C1180.0,507.5 1151.7,515.0 1130.0,515.0 C1108.3,515.0 1088.3,509.2 1070.0,500.0 C1051.7,490.8 1034.2,476.7 1020.0,460.0 C1005.8,443.3 994.2,421.7 985.0,400.0 C975.8,378.3 968.3,351.7 965.0,330.0 C961.7,308.3 961.7,289.2 965.0,270.0 C968.3,250.8 974.2,226.7 985.0,215.0Z" fill="#545454"/>
<ellipse cx="1363.0" cy="389.0" rx="50.0" ry="72.0" fill="#424242"/>
<ellipse cx="1363.0" cy="510.0" rx="22.0" ry="45.0" fill="#303030"/>
<ellipse cx="1283.0" cy="485.0" rx="30.0" ry="62.0" fill="#141414" transform="rotate(15 1283.0 485.0)"/>
<ellipse cx="1432.0" cy="452.0" rx="22.0" ry="55.0" fill="#141414" transform="rotate(-12 1432.0 452.0)"/>
<ellipse cx="1255.0" cy="528.0" rx="60.0" ry="22.0" fill="#101010"/>
<ellipse cx="1445.0" cy="528.0" rx="80.0" ry="22.0" fill="#0e0e0e"/>
<ellipse cx="1180.0" cy="538.0" rx="60.0" ry="12.0" fill="#141414"/>
<ellipse cx="1620.0" cy="430.0" rx="45.0" ry="62.0" fill="#4e4e4e"/>
<ellipse cx="1480.0" cy="305.0" rx="55.0" ry="42.0" fill="#4a4a4a"/>
<ellipse cx="1585.0" cy="150.0" rx="60.0" ry="50.0" fill="#3c3c3c"/>
</g>
<g filter="url(#b2)">
<path d="M1345.0,470.0 C1345.8,478.3 1349.7,505.0 1350.0,520.0 C1350.3,535.0 1347.5,553.3 1347.0,560.0" fill="none" stroke="#606060" stroke-width="4" stroke-linecap="round" stroke-linejoin="round"/>
<path d="M1380.0,470.0 C1379.3,478.3 1376.0,505.0 1376.0,520.0 C1376.0,535.0 1379.3,553.3 1380.0,560.0" fill="none" stroke="#606060" stroke-width="4" stroke-linecap="round" stroke-linejoin="round"/>
<ellipse cx="1484.5" cy="40.6" rx="14.0" ry="5.0" fill="#d0d0d0" transform="rotate(-25 1484.5 40.6)"/>
</g>
<g filter="url(#b2)">
<ellipse cx="1535.0" cy="100.0" rx="36.0" ry="19.0" fill="#060606"/>
<ellipse cx="1338" cy="141" rx="19" ry="19" fill="#1c1c1c" stroke="#3c3c3c" stroke-width="6"/>
<ellipse cx="1404.0" cy="194.0" rx="24.0" ry="19.0" fill="#101010"/>
<ellipse cx="1301.5" cy="285.0" rx="21.0" ry="21.0" fill="#181818"/>
<ellipse cx="1630.0" cy="170.0" rx="29.0" ry="47.0" fill="#525252" transform="rotate(-15 1630.0 170.0)"/>
<ellipse cx="1374.7" cy="271.6" rx="25.0" ry="25.0" fill="#020202"/>
<ellipse cx="1417.0" cy="236.0" rx="9.0" ry="9.0" fill="#050505"/>
<ellipse cx="1468.5" cy="262.4" rx="9.0" ry="9.0" fill="#101010"/>
<ellipse cx="1180.3" cy="207.5" rx="30.0" ry="27.0" fill="#303030"/>
<ellipse cx="1232.0" cy="280.0" rx="29.0" ry="28.0" fill="#525252"/>
<ellipse cx="1274.0" cy="260.0" rx="4.0" ry="4.0" fill="#a0a0a0"/>
<ellipse cx="1301.5" cy="81.7" rx="14.0" ry="14.0" fill="#505050"/>
<path d="M1000.0,220.0 C1009.2,211.8 1024.7,207.3 1040.0,206.0 C1055.3,204.7 1083.7,205.5 1092.0,212.0 C1100.3,218.5 1090.0,232.8 1090.0,245.0 C1090.0,257.2 1090.0,275.8 1092.0,285.0 C1094.0,294.2 1107.3,291.7 1102.0,300.0 C1096.7,308.3 1074.5,327.2 1060.0,335.0 C1045.5,342.8 1028.0,347.0 1015.0,347.0 C1002.0,347.0 988.2,342.8 982.0,335.0 C975.8,327.2 977.5,313.3 978.0,300.0 C978.5,286.7 981.3,268.3 985.0,255.0 C988.7,241.7 990.8,228.2 1000.0,220.0Z" fill="#808080"/>
<ellipse cx="1116.2" cy="380.6" rx="35.2" ry="21.0" fill="#9c9c9c" transform="rotate(20 1116.2 380.6)"/>
<ellipse cx="1152.7" cy="348.0" rx="12.6" ry="15.0" fill="#929292"/>
<ellipse cx="1066.0" cy="408.3" rx="15.0" ry="10.0" fill="#b2b2b2"/>
<ellipse cx="1040.8" cy="385.7" rx="17.6" ry="15.0" fill="#828282"/>
<ellipse cx="1121.3" cy="451.0" rx="20.0" ry="20.0" fill="#b8b8b8"/>
<ellipse cx="1171.6" cy="463.6" rx="15.0" ry="15.0" fill="#8a8a8a"/>
<ellipse cx="1214.3" cy="456.1" rx="30.2" ry="25.2" fill="#9a9a9a"/>
<ellipse cx="1101.1" cy="490.0" rx="18.9" ry="12.6" fill="#eaeaea"/>
<ellipse cx="1143.9" cy="488.8" rx="21.4" ry="13.8" fill="#d2d2d2"/>
<ellipse cx="1003.0" cy="385.7" rx="6.0" ry="22.6" fill="#b0b0b0"/>
<ellipse cx="1242.0" cy="385.7" rx="15.0" ry="17.6" fill="#666666"/>
<ellipse cx="1048.3" cy="446.0" rx="7.5" ry="7.5" fill="#888888"/>
<ellipse cx="1131.3" cy="511.4" rx="6.3" ry="6.3" fill="#999999"/>
<ellipse cx="1555.5" cy="210.0" rx="47.0" ry="55.0" fill="#949494"/>
<ellipse cx="1605.0" cy="297.0" rx="68.0" ry="62.0" fill="#b6b6b6"/>
<ellipse cx="1639.5" cy="225.5" rx="20.0" ry="18.0" fill="#c4c4c4"/>
<ellipse cx="1450.0" cy="327.8" rx="27.7" ry="25.0" fill="#949494"/>
<ellipse cx="1490.0" cy="307.7" rx="8.8" ry="8.8" fill="#999999"/>
<ellipse cx="1510.0" cy="317.7" rx="9.0" ry="9.0" fill="#999999"/>
<ellipse cx="1470.0" cy="297.6" rx="8.0" ry="8.0" fill="#999999"/>
<ellipse cx="1517.8" cy="295.0" rx="7.0" ry="7.0" fill="#999999"/>
<path d="M1523.0,352.0 C1531.0,348.8 1541.7,357.2 1548.0,362.0 C1554.3,366.8 1557.7,373.7 1561.0,381.0 C1564.3,388.3 1565.2,397.7 1568.0,406.0 C1570.8,414.3 1575.5,422.7 1578.0,431.0 C1580.5,439.3 1582.7,447.7 1583.0,456.0 C1583.3,464.3 1583.8,473.2 1580.0,481.0 C1576.2,488.8 1569.2,498.3 1560.0,503.0 C1550.8,507.7 1537.2,508.8 1525.0,509.0 C1512.8,509.2 1497.2,508.7 1487.0,504.0 C1476.8,499.3 1468.5,489.0 1464.0,481.0 C1459.5,473.0 1459.0,464.3 1460.0,456.0 C1461.0,447.7 1465.8,439.3 1470.0,431.0 C1474.2,422.7 1480.0,414.3 1485.0,406.0 C1490.0,397.7 1493.7,390.0 1500.0,381.0 C1506.3,372.0 1515.0,355.2 1523.0,352.0Z" fill="#b4b4b4"/>
<ellipse cx="1526.0" cy="468.0" rx="50.0" ry="32.0" fill="#e6e6e6"/>
<ellipse cx="1605.6" cy="421.0" rx="5.0" ry="5.0" fill="#ffffff"/>
<ellipse cx="1594.0" cy="470.0" rx="6.0" ry="6.0" fill="#f0f0f0"/>
<ellipse cx="1633.0" cy="398.0" rx="6.0" ry="5.0" fill="#e0e0e0"/>
<ellipse cx="1617.0" cy="378.0" rx="8.0" ry="8.0" fill="#909090"/>
<ellipse cx="1637.0" cy="376.0" rx="7.0" ry="7.0" fill="#a0a0a0"/>
</g>
<g filter="url(#b1)">
<path d="M1502.7,337.9 C1505.7,338.4 1515.5,341.9 1517.8,344.2 C1520.1,346.5 1521.0,352.0 1520.3,355.5 C1519.6,359.0 1515.5,366.9 1512.8,370.6 C1510.1,374.3 1503.2,379.8 1500.2,383.1 C1497.2,386.4 1492.4,393.2 1490.1,395.7 C1487.8,398.2 1485.3,401.7 1482.6,402.0 C1479.9,402.3 1473.4,399.4 1470.0,398.2 C1466.6,397.0 1459.9,395.2 1457.4,393.2 C1454.9,391.2 1452.6,385.4 1451.1,383.1 C1449.6,380.8 1445.6,377.8 1446.1,375.6 C1446.6,373.4 1451.4,368.3 1454.9,366.8 C1458.4,365.3 1468.8,365.1 1472.5,364.3 C1476.2,363.5 1480.6,362.7 1482.6,360.5 C1484.6,358.3 1485.9,350.6 1487.6,347.9 C1489.3,345.2 1493.2,341.7 1495.2,340.4 C1497.2,339.1 1499.7,337.4 1502.7,337.9Z" fill="#3FA89E"/>
</g>
<rect x="931" y="2" width="815" height="585" filter="url(#grain)" opacity="0.45" style="mix-blend-mode:soft-light"/>
</g>
<rect x="1668.2" y="563.1" width="61.4" height="14.6" fill="#fff"/>
<text x="1672.40" y="553.90" font-size="17.91" textLength="54.89" lengthAdjust="spacingAndGlyphs" fill="#fff" >20 mm</text>
<text x="967.07" y="80.30" font-size="54.80" textLength="30.33" lengthAdjust="spacingAndGlyphs" fill="#fff" >B</text>
<text x="361.55" y="643.40" font-size="53.44" textLength="117.06" lengthAdjust="spacingAndGlyphs" fill="#000" >2006</text>
<text x="1290.16" y="643.40" font-size="53.44" textLength="116.99" lengthAdjust="spacingAndGlyphs" fill="#000" >2024</text>
<text x="28.98" y="826.20" font-size="55.65" textLength="34.44" lengthAdjust="spacingAndGlyphs" fill="#000" >C</text>
<g clip-path="url(#t1)"><rect x="173.8" y="1219.2" width="128.5" height="124.5" fill="#484848"/><g filter="url(#bt)">
<path d="M250.0,1215.0 C256.2,1211.7 295.8,1205.8 305.0,1215.0 C314.2,1224.2 308.3,1263.3 305.0,1270.0 C301.7,1276.7 291.2,1260.8 285.0,1255.0 C278.8,1249.2 273.8,1241.7 268.0,1235.0 C262.2,1228.3 243.8,1218.3 250.0,1215.0Z" fill="#c0c0c0"/>
<path d="M170.0,1330.0 C178.3,1327.0 197.5,1328.3 220.0,1327.0 C242.5,1325.7 290.8,1319.0 305.0,1322.0 C319.2,1325.0 327.5,1341.2 305.0,1345.0 C282.5,1348.8 192.5,1347.5 170.0,1345.0 C147.5,1342.5 161.7,1333.0 170.0,1330.0Z" fill="#0c0c0c"/>
<ellipse cx="236.5" cy="1278.3" rx="48.5" ry="51.5" fill="#303030"/>
<ellipse cx="236.5" cy="1278.3" rx="42.0" ry="45.0" fill="#e2e2e2"/>
</g></g>
<g clip-path="url(#t2)"><rect x="286.2" y="966" width="136.9" height="143.7" fill="#424242"/><g filter="url(#bt)">
<path d="M362.0,962.0 C368.7,959.0 414.5,953.2 425.0,962.0 C435.5,970.8 428.3,1008.7 425.0,1015.0 C421.7,1021.3 411.7,1005.8 405.0,1000.0 C398.3,994.2 392.2,986.3 385.0,980.0 C377.8,973.7 355.3,965.0 362.0,962.0Z" fill="#c8c8c8"/>
<ellipse cx="349.0" cy="972.0" rx="9.0" ry="5.0" fill="#d0d0d0"/>
<path d="M285.0,1092.0 C295.8,1090.0 326.7,1098.7 350.0,1098.0 C373.3,1097.3 412.5,1086.0 425.0,1088.0 C437.5,1090.0 448.3,1106.3 425.0,1110.0 C401.7,1113.7 308.3,1113.0 285.0,1110.0 C261.7,1107.0 274.2,1094.0 285.0,1092.0Z" fill="#181818"/>
<ellipse cx="353.1" cy="1039.5" rx="55.0" ry="57.0" fill="#262626"/>
<ellipse cx="353.1" cy="1039.5" rx="48.5" ry="50.5" fill="#cccccc"/>
</g></g>
<g clip-path="url(#t3)"><rect x="541.2" y="858.2" width="135.7" height="131.0" fill="#343434"/><g filter="url(#bt)">
<path d="M640.0,855.0 C642.5,847.5 673.3,842.5 680.0,855.0 C686.7,867.5 682.5,922.5 680.0,930.0 C677.5,937.5 671.7,912.5 665.0,900.0 C658.3,887.5 637.5,862.5 640.0,855.0Z" fill="#707070"/>
<ellipse cx="585.0" cy="872.0" rx="14.0" ry="5.0" fill="#888888"/>
<path d="M620.0,960.0 C631.7,955.5 670.0,945.5 680.0,948.0 C690.0,950.5 691.7,970.5 680.0,975.0 C668.3,979.5 620.0,977.5 610.0,975.0 C600.0,972.5 608.3,964.5 620.0,960.0Z" fill="#040404"/>
<ellipse cx="608.6" cy="919.0" rx="57.0" ry="51.0" fill="#181818"/>
<ellipse cx="608.6" cy="919.0" rx="51.0" ry="45.5" fill="#acacac"/>
<ellipse cx="598.0" cy="962.0" rx="22.0" ry="4.0" fill="#f0f0f0"/>
</g></g>
<g clip-path="url(#t4)"><rect x="560" y="1150.1" width="137.0" height="119.5" fill="#2a2a2a"/><g filter="url(#bt)">
<path d="M665.0,1150.0 C667.5,1141.7 694.2,1136.7 700.0,1150.0 C705.8,1163.3 702.5,1221.7 700.0,1230.0 C697.5,1238.3 690.8,1213.3 685.0,1200.0 C679.2,1186.7 662.5,1158.3 665.0,1150.0Z" fill="#686868"/>
<ellipse cx="600.0" cy="1160.0" rx="14.0" ry="4.0" fill="#888888"/>
<path d="M640.0,1252.0 C651.7,1247.0 690.0,1237.0 700.0,1240.0 C710.0,1243.0 711.7,1265.0 700.0,1270.0 C688.3,1275.0 640.0,1273.0 630.0,1270.0 C620.0,1267.0 628.3,1257.0 640.0,1252.0Z" fill="#020202"/>
<ellipse cx="626.2" cy="1209.3" rx="57.0" ry="51.0" fill="#181818"/>
<ellipse cx="626.2" cy="1209.3" rx="51.0" ry="45.5" fill="#b6b6b6"/>
<ellipse cx="612.0" cy="1252.0" rx="20.0" ry="4.5" fill="#f6f6f6"/>
</g></g>
<g clip-path="url(#t5)"><rect x="723" y="1250.7" width="143.8" height="120.1" fill="#545454"/><g filter="url(#bt)">
<path d="M720.0,1250.0 C731.7,1241.7 783.3,1245.8 790.0,1250.0 C796.7,1254.2 769.2,1266.7 760.0,1275.0 C750.8,1283.3 741.7,1295.8 735.0,1300.0 C728.3,1304.2 722.5,1308.3 720.0,1300.0 C717.5,1291.7 708.3,1258.3 720.0,1250.0Z" fill="#787878"/>
<path d="M810.0,1348.0 C823.3,1341.8 860.0,1331.0 870.0,1335.0 C880.0,1339.0 883.3,1365.8 870.0,1372.0 C856.7,1378.2 800.0,1376.0 790.0,1372.0 C780.0,1368.0 796.7,1354.2 810.0,1348.0Z" fill="#040404"/>
<ellipse cx="740.0" cy="1340.0" rx="14.0" ry="14.0" fill="#202020"/>
<ellipse cx="796.1" cy="1309.2" rx="55.0" ry="49.5" fill="#3c3c3c"/>
<ellipse cx="796.1" cy="1309.2" rx="49.5" ry="44.0" fill="#e6e6e6"/>
</g></g>
<g clip-path="url(#t6)"><rect x="1012" y="1097" width="127.6" height="115.8" fill="#888888"/><g filter="url(#bt)">
<path d="M1010.0,1095.0 C1020.0,1084.2 1064.2,1090.8 1070.0,1095.0 C1075.8,1099.2 1052.5,1110.8 1045.0,1120.0 C1037.5,1129.2 1030.8,1143.3 1025.0,1150.0 C1019.2,1156.7 1012.5,1169.2 1010.0,1160.0 C1007.5,1150.8 1000.0,1105.8 1010.0,1095.0Z" fill="#a8a8a8"/>
<path d="M1075.0,1196.0 C1085.0,1192.0 1129.2,1176.8 1140.0,1180.0 C1150.8,1183.2 1145.0,1209.2 1140.0,1215.0 C1135.0,1220.8 1120.0,1216.8 1110.0,1215.0 C1100.0,1213.2 1085.8,1207.2 1080.0,1204.0 C1074.2,1200.8 1065.0,1200.0 1075.0,1196.0Z" fill="#060606"/>
<ellipse cx="1128.0" cy="1150.0" rx="8.0" ry="50.0" fill="#686868"/>
<path d="M1040.0,1196.0 C1030.7,1190.0 1025.7,1173.5 1026.0,1162.0 C1026.3,1150.5 1033.8,1135.3 1042.0,1127.0 C1050.2,1118.7 1064.8,1113.5 1075.0,1112.0 C1085.2,1110.5 1095.2,1111.7 1103.0,1118.0 C1110.8,1124.3 1118.5,1139.0 1122.0,1150.0 C1125.5,1161.0 1130.7,1176.0 1124.0,1184.0 C1117.3,1192.0 1096.0,1196.0 1082.0,1198.0 C1068.0,1200.0 1049.3,1202.0 1040.0,1196.0Z" fill="#4c4c4c"/>
<path d="M1045.0,1190.0 C1037.2,1184.8 1032.7,1169.7 1033.0,1160.0 C1033.3,1150.3 1040.0,1138.8 1047.0,1132.0 C1054.0,1125.2 1066.2,1120.3 1075.0,1119.0 C1083.8,1117.7 1093.3,1118.5 1100.0,1124.0 C1106.7,1129.5 1112.2,1142.7 1115.0,1152.0 C1117.8,1161.3 1122.8,1173.5 1117.0,1180.0 C1111.2,1186.5 1092.0,1189.3 1080.0,1191.0 C1068.0,1192.7 1052.8,1195.2 1045.0,1190.0Z" fill="#cccccc"/>
<ellipse cx="1052.0" cy="1186.0" rx="12.0" ry="8.0" fill="#f4f4f4"/>
</g></g>
<g clip-path="url(#t7)"><rect x="937" y="1341.6" width="121.7" height="118.1" fill="#626262"/><g filter="url(#bt)">
<path d="M935.0,1340.0 C945.8,1333.3 993.3,1335.8 1000.0,1340.0 C1006.7,1344.2 983.3,1358.3 975.0,1365.0 C966.7,1371.7 956.7,1377.5 950.0,1380.0 C943.3,1382.5 937.5,1386.7 935.0,1380.0 C932.5,1373.3 924.2,1346.7 935.0,1340.0Z" fill="#a4a4a4"/>
<path d="M1005.0,1446.0 C1011.7,1441.2 1050.8,1430.3 1060.0,1433.0 C1069.2,1435.7 1066.7,1457.2 1060.0,1462.0 C1053.3,1466.8 1029.2,1464.7 1020.0,1462.0 C1010.8,1459.3 998.3,1450.8 1005.0,1446.0Z" fill="#040404"/>
<ellipse cx="995.0" cy="1367.0" rx="14.0" ry="3.0" fill="#181818"/>
<ellipse cx="996.5" cy="1402.3" rx="49.0" ry="43.0" fill="#484848"/>
<ellipse cx="996.5" cy="1402.3" rx="44.0" ry="38.5" fill="#bcbcbc"/>
<ellipse cx="972.0" cy="1436.0" rx="12.0" ry="6.0" fill="#f8f8f8"/>
</g></g>
<g clip-path="url(#t8)"><rect x="1123" y="1273.3" width="118.8" height="112.3" fill="#8c8c8c"/><g filter="url(#bt)">
<path d="M1120.0,1270.0 C1127.5,1261.7 1161.7,1265.0 1165.0,1270.0 C1168.3,1275.0 1147.5,1291.7 1140.0,1300.0 C1132.5,1308.3 1123.3,1325.0 1120.0,1320.0 C1116.7,1315.0 1112.5,1278.3 1120.0,1270.0Z" fill="#a8a8a8"/>
<path d="M1180.0,1368.0 C1189.2,1361.3 1214.2,1353.0 1225.0,1350.0 C1235.8,1347.0 1241.7,1343.3 1245.0,1350.0 C1248.3,1356.7 1257.5,1383.3 1245.0,1390.0 C1232.5,1396.7 1180.8,1393.7 1170.0,1390.0 C1159.2,1386.3 1170.8,1374.7 1180.0,1368.0Z" fill="#040404"/>
<ellipse cx="1230.0" cy="1320.0" rx="10.0" ry="45.0" fill="#686868"/>
<path d="M1136.0,1300.0 C1140.8,1289.7 1150.7,1285.7 1160.0,1285.0 C1169.3,1284.3 1182.0,1289.5 1192.0,1296.0 C1202.0,1302.5 1214.2,1314.7 1220.0,1324.0 C1225.8,1333.3 1230.0,1344.8 1227.0,1352.0 C1224.0,1359.2 1214.8,1363.8 1202.0,1367.0 C1189.2,1370.2 1161.8,1374.3 1150.0,1371.0 C1138.2,1367.7 1133.3,1358.8 1131.0,1347.0 C1128.7,1335.2 1131.2,1310.3 1136.0,1300.0Z" fill="#585858"/>
<path d="M1140.0,1302.0 C1144.0,1293.0 1151.7,1291.2 1160.0,1291.0 C1168.3,1290.8 1181.0,1295.2 1190.0,1301.0 C1199.0,1306.8 1209.0,1317.8 1214.0,1326.0 C1219.0,1334.2 1222.5,1344.2 1220.0,1350.0 C1217.5,1355.8 1210.7,1358.5 1199.0,1361.0 C1187.3,1363.5 1160.5,1367.7 1150.0,1365.0 C1139.5,1362.3 1137.7,1355.5 1136.0,1345.0 C1134.3,1334.5 1136.0,1311.0 1140.0,1302.0Z" fill="#d4d4d4"/>
<ellipse cx="1165.0" cy="1358.0" rx="25.0" ry="5.0" fill="#f8f8f8"/>
</g></g>
<g clip-path="url(#t9)"><rect x="1225" y="1549.9" width="109.6" height="98.0" fill="#545454"/><g filter="url(#bt)">
<path d="M1225.0,1550.0 C1232.8,1544.2 1267.8,1546.7 1272.0,1550.0 C1276.2,1553.3 1257.8,1564.2 1250.0,1570.0 C1242.2,1575.8 1229.2,1588.3 1225.0,1585.0 C1220.8,1581.7 1217.2,1555.8 1225.0,1550.0Z" fill="#d0d0d0"/>
<path d="M1290.0,1550.0 C1293.3,1545.0 1327.5,1541.7 1335.0,1550.0 C1342.5,1558.3 1338.3,1595.0 1335.0,1600.0 C1331.7,1605.0 1322.5,1588.3 1315.0,1580.0 C1307.5,1571.7 1286.7,1555.0 1290.0,1550.0Z" fill="#3c3c3c"/>
<path d="M1232.0,1640.0 C1217.5,1633.7 1230.3,1610.3 1233.0,1600.0 C1235.7,1589.7 1241.5,1583.8 1248.0,1578.0 C1254.5,1572.2 1264.2,1566.0 1272.0,1565.0 C1279.8,1564.0 1288.3,1567.8 1295.0,1572.0 C1301.7,1576.2 1307.7,1583.3 1312.0,1590.0 C1316.3,1596.7 1319.7,1604.0 1321.0,1612.0 C1322.3,1620.0 1334.8,1633.3 1320.0,1638.0 C1305.2,1642.7 1246.5,1646.3 1232.0,1640.0Z" fill="#a0a0a0"/>
<path d="M1275.0,1639.0 C1285.0,1636.2 1325.0,1631.2 1335.0,1633.0 C1345.0,1634.8 1345.0,1647.2 1335.0,1650.0 C1325.0,1652.8 1285.0,1651.8 1275.0,1650.0 C1265.0,1648.2 1265.0,1641.8 1275.0,1639.0Z" fill="#0c0c0c"/>
</g></g>
<g clip-path="url(#t10)"><rect x="1368.1" y="1370.8" width="116.7" height="96.8" fill="#444444"/><g filter="url(#bt)">
<path d="M1368.0,1370.0 C1375.8,1365.3 1410.5,1367.0 1415.0,1370.0 C1419.5,1373.0 1402.8,1383.3 1395.0,1388.0 C1387.2,1392.7 1372.5,1401.0 1368.0,1398.0 C1363.5,1395.0 1360.2,1374.7 1368.0,1370.0Z" fill="#c4c4c4"/>
<ellipse cx="1450.0" cy="1385.0" rx="6.0" ry="4.0" fill="#d0d0d0"/>
<ellipse cx="1378.0" cy="1430.0" rx="6.0" ry="25.0" fill="#181818"/>
<path d="M1385.0,1452.0 C1371.3,1447.0 1385.5,1429.5 1388.0,1420.0 C1390.5,1410.5 1393.8,1401.5 1400.0,1395.0 C1406.2,1388.5 1416.7,1382.7 1425.0,1381.0 C1433.3,1379.3 1443.3,1381.0 1450.0,1385.0 C1456.7,1389.0 1461.3,1397.5 1465.0,1405.0 C1468.7,1412.5 1471.2,1422.5 1472.0,1430.0 C1472.8,1437.5 1484.5,1446.3 1470.0,1450.0 C1455.5,1453.7 1398.7,1457.0 1385.0,1452.0Z" fill="#8a8a8a"/>
<path d="M1410.0,1453.0 C1422.5,1449.5 1472.5,1446.2 1485.0,1449.0 C1497.5,1451.8 1497.5,1466.5 1485.0,1470.0 C1472.5,1473.5 1422.5,1472.8 1410.0,1470.0 C1397.5,1467.2 1397.5,1456.5 1410.0,1453.0Z" fill="#040404"/>
<ellipse cx="1392.0" cy="1458.0" rx="14.0" ry="5.0" fill="#505050"/>
</g></g>
<g clip-path="url(#t11)"><rect x="1592" y="1632.4" width="116.0" height="114.5" fill="#707070"/><g filter="url(#b2)">
<path d="M1640.0,1630.0 C1647.5,1625.8 1698.3,1618.3 1710.0,1630.0 C1721.7,1641.7 1713.3,1692.5 1710.0,1700.0 C1706.7,1707.5 1697.5,1682.5 1690.0,1675.0 C1682.5,1667.5 1673.3,1662.5 1665.0,1655.0 C1656.7,1647.5 1632.5,1634.2 1640.0,1630.0Z" fill="#c8c8c8"/>
<ellipse cx="1600.0" cy="1650.0" rx="10.0" ry="12.0" fill="#a0a0a0"/>
<ellipse cx="1617.0" cy="1705.0" rx="16.0" ry="25.0" fill="#b4b4b4"/>
<ellipse cx="1605.0" cy="1735.0" rx="20.0" ry="10.0" fill="#a4a4a4"/>
<ellipse cx="1685.0" cy="1725.0" rx="25.0" ry="20.0" fill="#505050"/>
<ellipse cx="1650.0" cy="1738.0" rx="20.0" ry="4.0" fill="#303030"/>
</g></g>
<clipPath id="cg"><rect x="173" y="900" width="1500" height="900"/></clipPath>
<g clip-path="url(#cg)"><line x1="148.1" y1="1228.8" x2="190.5" y2="1207.4" stroke="#86DC46" stroke-width="16.5"/>
<line x1="235.2" y1="1184.2" x2="278.0" y2="1163.4" stroke="#86DC46" stroke-width="16.5"/>
<line x1="323.4" y1="1143.3" x2="366.0" y2="1122.3" stroke="#86DC46" stroke-width="16.5"/>
<line x1="410.3" y1="1098.8" x2="452.5" y2="1076.8" stroke="#86DC46" stroke-width="16.5"/>
<line x1="497.1" y1="1053.5" x2="539.3" y2="1031.5" stroke="#86DC46" stroke-width="16.5"/>
<line x1="584.3" y1="1008.9" x2="601" y2="1000.4" stroke="#86DC46" stroke-width="16.5"/></g>
<line x1="604.5" y1="1043.0" x2="640.7" y2="1069.8" stroke="#FC1C0C" stroke-width="16.8"/>
<line x1="676.0" y1="1096.6" x2="712.6" y2="1122.8" stroke="#FC1C0C" stroke-width="16.8"/>
<line x1="750.0" y1="1148.4" x2="787.6" y2="1173.2" stroke="#FC1C0C" stroke-width="16.8"/>
<line x1="825.5" y1="1197.2" x2="863.7" y2="1221.0" stroke="#FC1C0C" stroke-width="16.8"/>
<line x1="902.1" y1="1244.2" x2="940.9" y2="1267.2" stroke="#FC1C0C" stroke-width="16.8"/>
<line x1="979.8" y1="1290.0" x2="1019.2" y2="1312.0" stroke="#FC1C0C" stroke-width="16.8"/>
<line x1="1058.8" y1="1332.9" x2="1098.6" y2="1353.7" stroke="#FC1C0C" stroke-width="16.8"/>
<line x1="1139.3" y1="1374.6" x2="1179.7" y2="1394.4" stroke="#FC1C0C" stroke-width="16.8"/>
<line x1="1220.4" y1="1413.4" x2="1261.2" y2="1432.4" stroke="#FC1C0C" stroke-width="16.8"/>
<line x1="1301.9" y1="1451.5" x2="1342.9" y2="1470.1" stroke="#FC1C0C" stroke-width="16.8"/>
<line x1="1383.9" y1="1488.4" x2="1425.5" y2="1505.6" stroke="#FC1C0C" stroke-width="16.8"/>
<line x1="1467.8" y1="1521.7" x2="1509.8" y2="1538.1" stroke="#FC1C0C" stroke-width="16.8"/>
<g stroke="#000" stroke-width="16.3" fill="none" stroke-linejoin="miter" stroke-miterlimit="10">
<line x1="1442.1" y1="1521.5" x2="1548.3" y2="1726.5"/>
<polyline points="1500.6,1711.7 1548.9,1727.6 1564.1,1680.7"/>
</g>
<ellipse cx="236.5" cy="1199.1" rx="19.6" ry="18.9" fill="#62B0F4"/>
<ellipse cx="445.8" cy="1037.7" rx="19.6" ry="18.9" fill="#62B0F4"/>
<ellipse cx="609.3" cy="1019.1" rx="19.6" ry="18.9" fill="#62B0F4"/>
<ellipse cx="715.5" cy="1147.4" rx="19.6" ry="18.9" fill="#62B0F4"/>
<ellipse cx="794.9" cy="1217.7" rx="19.6" ry="18.9" fill="#62B0F4"/>
<ellipse cx="997.7" cy="1310.3" rx="19.6" ry="18.9" fill="#62B0F4"/>
<ellipse cx="1075.5" cy="1236.4" rx="19.6" ry="18.9" fill="#62B0F4"/>
<ellipse cx="1181.9" cy="1418.5" rx="19.6" ry="18.9" fill="#62B0F4"/>
<ellipse cx="1279.4" cy="1521.4" rx="19.6" ry="18.9" fill="#62B0F4"/>
<ellipse cx="1429.1" cy="1492.9" rx="19.6" ry="18.9" fill="#62B0F4"/>
<ellipse cx="1578.6" cy="1764.7" rx="19.6" ry="18.9" fill="#000"/>
<rect x="168" y="891.3" width="11" height="922.7" fill="#000"/>
<rect x="168" y="1803.1" width="1482.4" height="10.9" fill="#000"/>
<rect x="161" y="952.6" width="24.7" height="11.2" fill="#000"/>
<text x="94.68" y="968.00" font-size="35.24" textLength="41.38" lengthAdjust="spacingAndGlyphs" fill="#000" >35</text>
<rect x="161" y="1081.9" width="24.7" height="11.2" fill="#000"/>
<text x="94.69" y="1097.30" font-size="35.24" textLength="41.26" lengthAdjust="spacingAndGlyphs" fill="#000" >30</text>
<rect x="161" y="1211.3" width="24.7" height="11.2" fill="#000"/>
<text x="94.21" y="1226.70" font-size="35.24" textLength="41.87" lengthAdjust="spacingAndGlyphs" fill="#000" >25</text>
<rect x="161" y="1340.6" width="24.7" height="11.2" fill="#000"/>
<text x="94.21" y="1356.00" font-size="35.24" textLength="41.75" lengthAdjust="spacingAndGlyphs" fill="#000" >20</text>
<rect x="161" y="1470.2" width="24.7" height="11.2" fill="#000"/>
<text x="93.16" y="1485.60" font-size="35.24" textLength="42.96" lengthAdjust="spacingAndGlyphs" fill="#000" >15</text>
<rect x="161" y="1601.5" width="24.7" height="11.2" fill="#000"/>
<text x="93.17" y="1616.90" font-size="35.24" textLength="42.84" lengthAdjust="spacingAndGlyphs" fill="#000" >10</text>
<rect x="161" y="1732.4" width="24.7" height="11.2" fill="#000"/>
<text x="105.13" y="1746.90" font-size="35.24" textLength="20.41" lengthAdjust="spacingAndGlyphs" fill="#000" >5</text>
<rect x="345.9" y="1797" width="11.6" height="23.6" fill="#000"/>
<text x="309.02" y="1860.40" font-size="36.10" textLength="83.16" lengthAdjust="spacingAndGlyphs" fill="#000" >2007</text>
<rect x="537.6" y="1797" width="11.6" height="23.6" fill="#000"/>
<text x="499.23" y="1860.40" font-size="36.10" textLength="82.72" lengthAdjust="spacingAndGlyphs" fill="#000" >2010</text>
<rect x="728.1" y="1797" width="11.6" height="23.6" fill="#000"/>
<text x="688.53" y="1860.40" font-size="36.10" textLength="82.91" lengthAdjust="spacingAndGlyphs" fill="#000" >2013</text>
<rect x="918.3" y="1797" width="11.6" height="23.6" fill="#000"/>
<text x="878.23" y="1860.40" font-size="36.10" textLength="82.84" lengthAdjust="spacingAndGlyphs" fill="#000" >2015</text>
<rect x="1106.5" y="1797" width="11.6" height="23.6" fill="#000"/>
<text x="1068.22" y="1860.40" font-size="36.10" textLength="83.16" lengthAdjust="spacingAndGlyphs" fill="#000" >2017</text>
<rect x="1292.9" y="1797" width="11.6" height="23.6" fill="#000"/>
<text x="1258.53" y="1860.40" font-size="36.10" textLength="82.72" lengthAdjust="spacingAndGlyphs" fill="#000" >2020</text>
<rect x="1485.9" y="1797" width="11.6" height="23.6" fill="#000"/>
<text x="1447.93" y="1860.40" font-size="36.10" textLength="82.91" lengthAdjust="spacingAndGlyphs" fill="#000" >2023</text>
<rect x="206.3" y="1346.2" width="61.9" height="11.6" fill="#000"/>
<text x="187.55" y="1391.00" font-size="31.52" textLength="100.11" lengthAdjust="spacingAndGlyphs" fill="#000" >20 mm</text>
<text x="888.28" y="1940.10" font-size="47.38" textLength="88.52" lengthAdjust="spacingAndGlyphs" fill="#000" >Year</text>
<g transform="translate(58.4 1479.6) rotate(-90)"><text x="-0.20" y="0.00" font-size="49.42" textLength="256.98" lengthAdjust="spacingAndGlyphs" fill="#000" >Volume (mL)</text></g>
<rect x="210.9" y="1570.7" width="76.7" height="11.2" fill="#86DC46"/>
<rect x="210.9" y="1610.4" width="76.7" height="11.4" fill="#FF2626"/>
<rect x="210.9" y="1658.2" width="76.7" height="11.4" fill="#000"/>
<ellipse cx="251.9" cy="1708.6" rx="19.7" ry="18.9" fill="#62B0F4"/>
<ellipse cx="251.9" cy="1756.1" rx="19.7" ry="18.9" fill="#000"/>
<text x="299.21" y="1583.10" font-size="35.47" textLength="127.35" lengthAdjust="spacingAndGlyphs" fill="#000" >Growth</text>
<text x="299.48" y="1629.30" font-size="35.47" textLength="170.20" lengthAdjust="spacingAndGlyphs" fill="#000" >Shrinkage</text>
<text x="299.34" y="1676.40" font-size="35.47" textLength="214.38" lengthAdjust="spacingAndGlyphs" fill="#000" >Hemorrhage</text>
<text x="301.04" y="1722.40" font-size="35.47" textLength="275.48" lengthAdjust="spacingAndGlyphs" fill="#000" >Volume (Simple)</text>
<text x="301.04" y="1768.90" font-size="35.47" textLength="308.88" lengthAdjust="spacingAndGlyphs" fill="#000" >Volume (Complex)</text>
</svg>
</body></html>
